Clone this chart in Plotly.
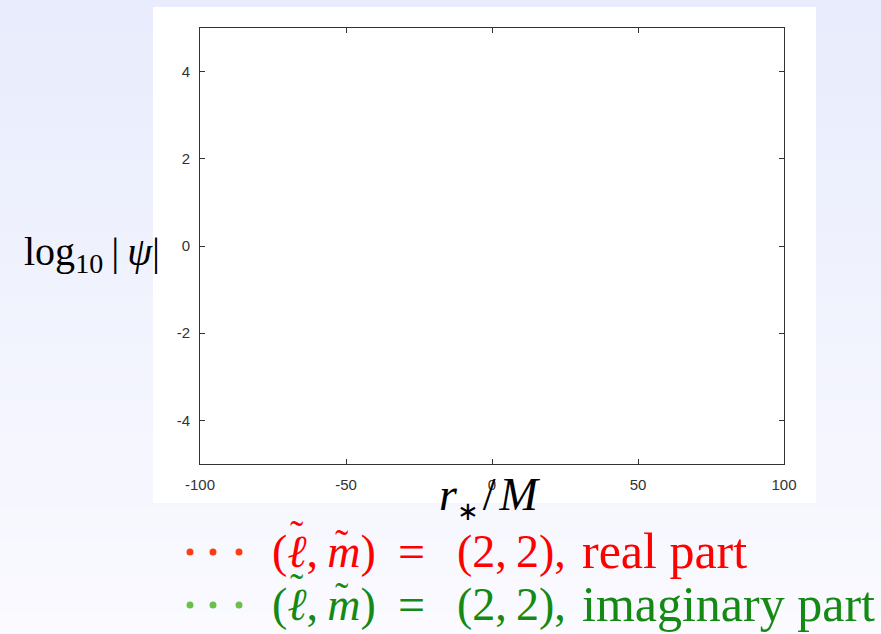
import plotly.graph_objects as go

W, H = 881, 634

# Plot frame in pixels
L, R, T, B = 200, 784, 28, 464

# Axis settings
x_range = [-100, 100]
y_range = [-5, 5]
x_ticks = [-100, -50, 0, 50, 100]
y_ticks = [-4, -2, 0, 2, 4]

# Series (no samples fall inside the shown window)
series_names = ["real part", "imaginary part"]
real_x, real_y = [], []
imag_x, imag_y = [], []

dot_colors = ["#ff3c14", "#6cc04a"]
text_colors = ["#ff0000", "#148a14"]


def px(x):
    return (x - L) / (R - L)


def py(y):
    return (B - y) / (B - T)


fig = go.Figure()
fig.add_trace(go.Scatter(x=real_x, y=real_y, mode="markers", name=series_names[0],
                         marker=dict(color=dot_colors[0], size=4)))
fig.add_trace(go.Scatter(x=imag_x, y=imag_y, mode="markers", name=series_names[1],
                         marker=dict(color=dot_colors[1], size=4)))

shapes = []
# vertical background gradient
top_c = (232, 236, 252)
bot_c = (250, 250, 255)
n = 60
for i in range(n):
    t = i / (n - 1)
    c = tuple(round(top_c[k] + (bot_c[k] - top_c[k]) * t) for k in range(3))
    y0 = H * i / n
    y1 = H * (i + 1) / n + 1
    shapes.append(dict(type="rect", xref="paper", yref="paper",
                       x0=px(-5), x1=px(W + 5), y0=py(y1), y1=py(y0),
                       fillcolor="rgb(%d,%d,%d)" % c, line=dict(width=0), layer="below"))
# white panel behind the axes
shapes.append(dict(type="rect", xref="paper", yref="paper",
                   x0=px(153), x1=px(816), y0=py(503), y1=py(7),
                   fillcolor="white", line=dict(width=0), layer="below"))

# legend rows: dots + math-style text pieces
row_y = [552, 605]
r_dot = 3.5
for row, yy in enumerate(row_y):
    for xx in [190, 213, 239]:
        shapes.append(dict(type="circle", xref="paper", yref="paper",
                           x0=px(xx - r_dot), x1=px(xx + r_dot),
                           y0=py(yy + r_dot), y1=py(yy - r_dot),
                           fillcolor=dot_colors[row], line=dict(width=0)))

serif = "Liberation Serif, serif"
annotations = [
    dict(text="log<sub>10</sub>\u2009|\u2009<i>ψ</i>|", xref="paper", yref="paper",
         x=px(22), y=py(254), xanchor="left", yanchor="middle", showarrow=False,
         font=dict(family=serif, size=40, color="black")),
    dict(text="<i>r</i><sub><span style='font-size:26px'>∗</span></sub>\u200a/\u200a<i>M</i>",
         xref="paper", yref="paper",
         x=px(437), y=py(497), xanchor="left", yanchor="middle", showarrow=False,
         font=dict(family=serif, size=46, color="black")),
]


def ann(text, x, y, anchor, size, color):
    return dict(text=text, xref="paper", yref="paper", x=px(x), y=py(y),
                xanchor=anchor, yanchor="middle", showarrow=False,
                font=dict(family=serif, size=size, color=color))


for row, yy in enumerate(row_y):
    col = text_colors[row]
    cy = yy - 1
    annotations.append(ann("(<i>ℓ</i>,\u2009<i>m</i>)", 270, cy, "left", 46, col))
    annotations.append(ann("˜", 297, cy - 17, "center", 40, col))
    annotations.append(ann("˜", 342, cy - 8, "center", 40, col))
    annotations.append(ann("=", 411, cy, "center", 48, col))
    annotations.append(ann("(2,\u20092),", 455, cy, "left", 46, col))
    annotations.append(ann(series_names[row], 580, cy, "left", 50, col))

axis_common = dict(showline=True, linecolor="#333333", linewidth=1, mirror="ticks",
                   ticks="inside", ticklen=5, tickcolor="#333333", showgrid=False,
                   zeroline=False,
                   tickfont=dict(family="Liberation Sans, Arial, sans-serif", size=15,
                                 color="#333333"))

fig.update_layout(
    width=W, height=H,
    margin=dict(l=L, r=W - R, t=T, b=H - B),
    paper_bgcolor="#eef0fc", plot_bgcolor="white",
    showlegend=False,
    xaxis=dict(range=x_range, tickvals=x_ticks, ticktext=[str(v) for v in x_ticks],
               ticklabelstandoff=7, **axis_common),
    yaxis=dict(range=y_range, tickvals=y_ticks, ticktext=[str(v) for v in y_ticks],
               ticklabelstandoff=6, **axis_common),
    shapes=shapes, annotations=annotations,
)

fig.write_html("out.html")
